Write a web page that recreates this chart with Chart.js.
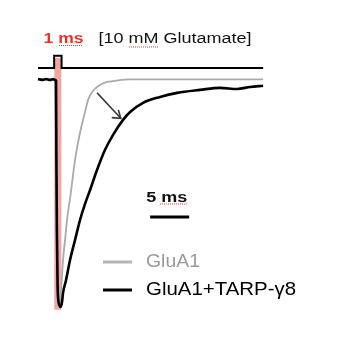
<!DOCTYPE html>
<html>
<head>
<meta charset="utf-8">
<script src="https://cdn.jsdelivr.net/npm/chart.js@4.4.1/dist/chart.umd.min.js"></script>
<style>
  html, body { margin: 0; padding: 0; background: #fff; }
  #wrap { width: 346px; height: 358px; position: relative; }
</style>
</head>
<body>
<div id="wrap"><canvas id="traceChart"></canvas></div>
<script>
// time in ms, current normalised to the TARP peak (0 = baseline, -1 = peak)
const tTarp = [-2.12, -1.6, -1.09, -0.58, -0.19, 0.06, 0.19, 0.23, 0.3, 0.39, 0.51, 0.77, 0.96, 1.09, 1.48, 1.99, 2.63, 3.27, 3.91, 4.56, 5.46, 6.48, 7.51, 8.79, 9.69, 11.36, 13.54, 15.73, 18.68, 21.25, 23.43, 25.1, 26.77];
const iTarp = [0.004, 0, 0.004, 0, 0.004, 0, -0.004, -0.308, -0.661, -0.903, -0.978, -1.0, -0.978, -0.938, -0.881, -0.793, -0.705, -0.617, -0.546, -0.485, -0.396, -0.308, -0.242, -0.176, -0.141, -0.101, -0.075, -0.057, -0.044, -0.035, -0.04, -0.031, -0.026];

const tGlua = [-2.12, 0.06, 0.19, 0.32, 0.45, 0.64, 0.77, 0.92, 1.09, 1.35, 1.6, 2.05, 2.63, 3.27, 3.98, 4.3, 4.94, 5.84, 6.74, 7.77, 9.69, 26.77];
const iGlua = [0, 0, -0.308, -0.749, -0.947, -0.987, -0.947, -0.881, -0.793, -0.705, -0.617, -0.507, -0.352, -0.233, -0.132, -0.088, -0.048, -0.022, -0.009, -0.004, 0.002, 0.002];

// glutamate application trace (1 ms pulse)
const tStim = [-2.12, -0.05, -0.05, 0.9, 0.9, 26.77];
const yStim = [0.053, 0.053, 0.106, 0.106, 0.053, 0.053];

const pulseWindow = [-0.05, 0.9];
const pulseSpan = [0.097, -1.013];

const scaleBarMs = [12.27, 17.27];
const scaleBarLevel = -0.604;

const arrowShaft = [[5.46, -0.057], [8.5, -0.169]];
const arrowHead = [[7.34, -0.166], [8.5, -0.169], [8.19, -0.132]];

const seriesLabels = ['GluA1', 'GluA1+TARP-\u03b38'];

const pts = (xs, ys) => xs.map((x, i) => ({ x: x, y: ys[i] }));
const FONT = '"Liberation Sans", Arial, sans-serif';

// the slide text is slightly stretched sideways, so squeeze/stretch to width
function fitText(ctx, text, x, y, w) {
    const natural = ctx.measureText(text).width;
    ctx.save();
    ctx.translate(x, y);
    ctx.scale(w / natural, 1);
    ctx.fillText(text, 0, 0);
    ctx.restore();
}

const textPlugin = {
    id: 'figText',
    afterDatasetsDraw(chart) {
        const ctx = chart.ctx;
        const xs = chart.scales.x;
        ctx.save();
        ctx.textBaseline = 'alphabetic';
        ctx.textAlign = 'left';

        // header
        ctx.fillStyle = '#e8352b';
        ctx.font = 'bold 15.5px ' + FONT;
        fitText(ctx, '1 ms', 43.5, 42.7, 40);
        ctx.fillStyle = '#111';
        ctx.font = '15.5px ' + FONT;
        fitText(ctx, '[10 mM Glutamate]', 98.5, 43.3, 153);

        // scale bar label
        ctx.font = 'bold 15.5px ' + FONT;
        fitText(ctx, '5 ms', xs.getPixelForValue(scaleBarMs[0]) - 4, 201.5, 41);

        // spell-check squiggles from the original slide
        ctx.strokeStyle = '#e0433a';
        ctx.lineWidth = 1;
        ctx.setLineDash([1, 1]);
        [[59, 83, 45.5], [129, 158, 47], [160, 187, 204]].forEach(s => {
            ctx.beginPath();
            ctx.moveTo(s[0], s[2]);
            ctx.lineTo(s[1], s[2]);
            ctx.stroke();
        });
        ctx.setLineDash([]);

        // legend
        const rows = [
            { y: 262, base: 266.7, w: 54, color: '#b4b4b4', text: '#9a9a9a' },
            { y: 290, base: 295, w: 150, color: '#000', text: '#000' }
        ];
        ctx.font = '18.5px ' + FONT;
        rows.forEach((r, i) => {
            ctx.strokeStyle = r.color;
            ctx.lineWidth = 3;
            ctx.beginPath();
            ctx.moveTo(103, r.y);
            ctx.lineTo(132, r.y);
            ctx.stroke();
            ctx.fillStyle = r.text;
            fitText(ctx, seriesLabels[i], 146, r.base, r.w);
        });
        ctx.restore();
    }
};

function initializeChart() {
    const canvas = document.getElementById('traceChart');
    if (!canvas) {
        console.error('traceChart canvas not found');
        return;
    }

    new Chart(canvas.getContext('2d'), {
        type: 'line',
        data: {
            datasets: [
                {
                    label: seriesLabels[1],
                    data: pts(tTarp, iTarp),
                    borderColor: '#000',
                    borderWidth: 2.6,
                    pointRadius: 0,
                    cubicInterpolationMode: 'monotone'
                },
                {
                    label: 'arrow head',
                    data: arrowHead.map(p => ({ x: p[0], y: p[1] })),
                    borderColor: '#3a3a3a',
                    borderWidth: 1.6,
                    pointRadius: 0,
                    tension: 0
                },
                {
                    label: 'arrow',
                    data: arrowShaft.map(p => ({ x: p[0], y: p[1] })),
                    borderColor: '#3a3a3a',
                    borderWidth: 1.6,
                    pointRadius: 0,
                    tension: 0
                },
                {
                    label: seriesLabels[0],
                    data: pts(tGlua, iGlua),
                    borderColor: '#aaaaaa',
                    borderWidth: 1.8,
                    pointRadius: 0,
                    cubicInterpolationMode: 'monotone'
                },
                {
                    label: 'scale bar',
                    data: pts(scaleBarMs, [scaleBarLevel, scaleBarLevel]),
                    borderColor: '#000',
                    borderWidth: 3,
                    pointRadius: 0,
                    borderCapStyle: 'butt'
                },
                {
                    label: 'glutamate',
                    data: pts(tStim, yStim),
                    borderColor: '#000',
                    borderWidth: 2,
                    pointRadius: 0,
                    tension: 0
                },
                {
                    label: 'pulse',
                    data: pts(pulseWindow, [pulseSpan[0], pulseSpan[0]]),
                    borderWidth: 0,
                    pointRadius: 0,
                    backgroundColor: 'rgba(240, 150, 144, 0.85)',
                    fill: { value: pulseSpan[1] }
                }
            ]
        },
        options: {
            responsive: true,
            maintainAspectRatio: false,
            animation: false,
            layout: { padding: 0 },
            scales: {
                x: { type: 'linear', min: -7, max: 37.4, display: false },
                y: { min: -1.225, max: 0.352, display: false }
            },
            plugins: {
                legend: { display: false },
                tooltip: { enabled: false }
            }
        },
        plugins: [textPlugin]
    });
}

initializeChart();
</script>
</body>
</html>
